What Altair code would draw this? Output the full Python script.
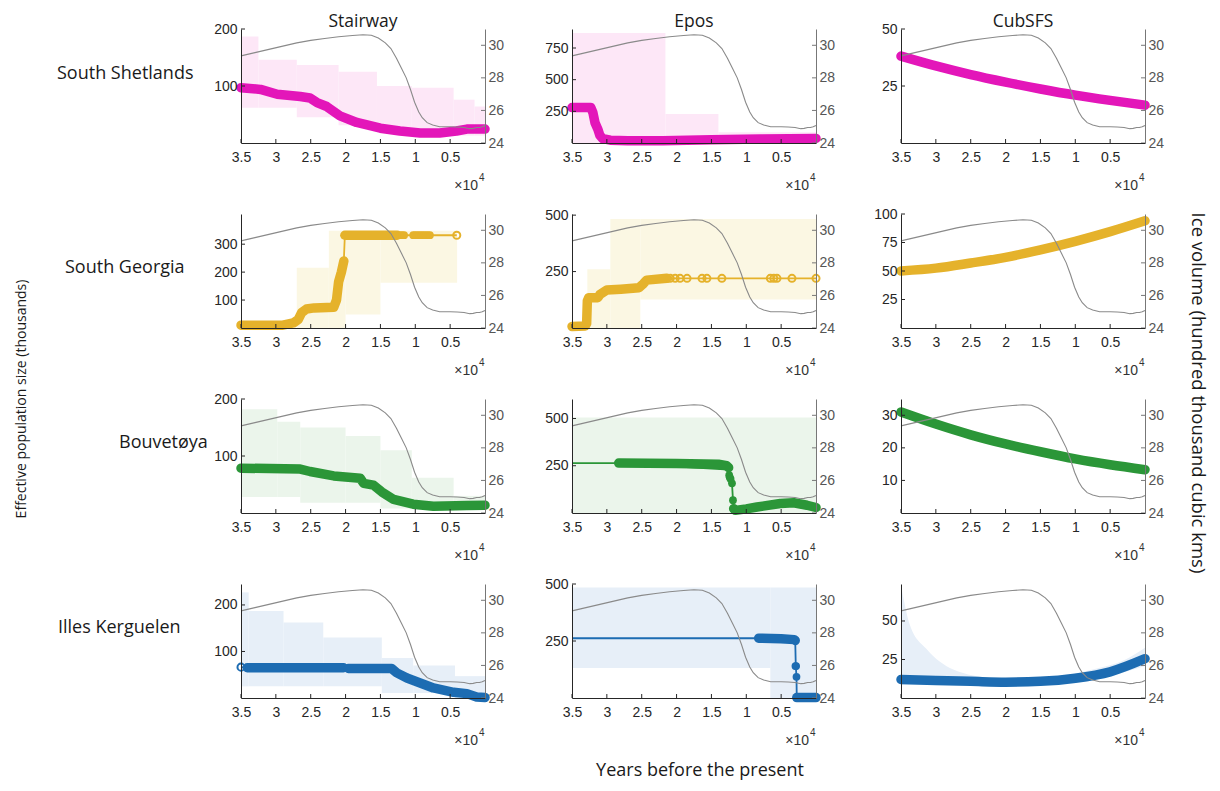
import altair as alt
import pandas as pd

# ---------------- data ----------------
METHODS = ["Stairway", "Epos", "CubSFS"]
POPULATIONS = ["South Shetlands", "South Georgia", "Bouvetøya", "Illes Kerguelen"]
COLORS = ["#E316B9", "#E5B22B", "#2B9638", "#1D6CB2"]
CI_COLORS = ["#FDE7F7", "#FBF7E3", "#EBF5EB", "#E7EFF8"]

X_TICKS = [35000, 30000, 25000, 20000, 15000, 10000, 5000]
ICE_TICKS = [24, 26, 28, 30]

# ice volume (hundred thousand cubic km), same in every panel
ICE_T = [35000, 33000, 31000, 29000, 27000, 25000, 23000, 21000, 19000, 17500, 16300,
         15300, 14300, 13500, 12700, 12000, 11300, 10700, 10100, 9500, 9000, 8300, 7500,
         6500, 5000, 4000, 3000, 2200, 1700, 1200, 800, 400, 0]
ICE_V = [29.35, 29.55, 29.75, 29.95, 30.15, 30.3, 30.42, 30.52, 30.6, 30.65, 30.62,
         30.45, 30.15, 29.8, 29.2, 28.6, 28.0, 27.3, 26.5, 25.9, 25.55, 25.25, 25.1,
         25.0, 25.0, 24.98, 24.95, 24.88, 24.9, 24.95, 24.95, 25.0, 25.08]

# left axis limits / ticks (rows = populations, cols = methods)
Y_MAX = [[200, 900, 50], [408, 505, 100], [200, 603, 35], [245, 500, 74]]
Y_TICKS = [[[100, 200], [250, 500, 750], [25, 50]],
           [[100, 200, 300], [250, 500], [25, 50, 75, 100]],
           [[100, 200], [250, 500], [10, 20, 30]],
           [[100, 200], [250, 500], [25, 50]]]

CUB_T = [35000, 30000, 25000, 20000, 15000, 10000, 5000, 0]

# South Shetlands
SS_STAIR_T = [35000, 32200, 29800, 26500, 25100, 24100, 22700, 20800, 18400, 15000, 12200, 9300, 6500, 4100, 2600, 0]
SS_STAIR_NE = [97, 94, 85.5, 81.5, 79, 71, 64, 47.5, 36, 26, 21, 17.4, 17.4, 21, 24.4, 24.4]
SS_STAIR_CI_T = [35000, 32500, 27000, 21000, 15500, 10500, 4500, 1500, 0]
SS_STAIR_CI_LO = [62, 62, 45, 31, 19, 13, 13, 13]
SS_STAIR_CI_HI = [187, 146, 137, 125, 100, 97, 76, 64]
SS_EPOS_T = [35000, 32300, 32000, 31700, 31300, 31000, 30600, 29500, 27000, 22000, 15000, 8000, 0]
SS_EPOS_NE = [280, 280, 240, 160, 110, 60, 35, 22, 18, 18, 25, 32, 36]
SS_EPOS_CI_T = [35000, 21600, 14000, 0]
SS_EPOS_CI_LO = [0, 0, 0]
SS_EPOS_CI_HI = [868, 228, 84]
SS_CUB_NE = [38.1, 33.8, 30.0, 26.7, 23.7, 21.0, 18.7, 16.6]

# South Georgia
SG_STAIR_T = [35000, 29000, 27500, 26800, 26300, 25600, 24500, 21700, 21300, 21000, 20600, 20250]
SG_STAIR_NE = [10, 10, 18, 30, 55, 68, 72, 74, 100, 165, 200, 240]
SG_STAIR_T2 = [20100, 12600]
SG_STAIR_NE2 = [332, 332]
SG_STAIR_THIN_T = [20250, 20100, 4050]
SG_STAIR_THIN_NE = [240, 332, 332]
SG_STAIR_MKF_T = [12200, 11900, 11600, 10300, 10000, 9700, 9400, 9100, 8800, 8500, 8200, 7900]
SG_STAIR_MKF_NE = [332, 332, 332, 332, 332, 332, 332, 332, 332, 332, 332, 332]
SG_STAIR_MK_T = [4050]
SG_STAIR_MK_NE = [332]
SG_STAIR_CI_T = [35000, 27000, 22400, 20000, 15000, 4000]
SG_STAIR_CI_LO = [4, 0, 0, 48, 162]
SG_STAIR_CI_HI = [14, 216, 348, 348, 348]
SG_EPOS_T = [35000, 33100, 32900, 32800, 32600, 31300, 31000, 30000, 28000, 25400, 24800, 24300, 21400]
SG_EPOS_NE = [7, 9, 20, 120, 134, 134, 148, 168, 172, 178, 195, 212, 220]
SG_EPOS_THIN_T = [21400, 0]
SG_EPOS_THIN_NE = [220, 220]
SG_EPOS_MK_T = [20900, 20200, 19500, 18500, 16350, 15650, 13500, 6550, 6050, 5600, 3450, 0]
SG_EPOS_MK_NE = [220, 220, 220, 220, 220, 220, 220, 220, 220, 220, 220, 220]
SG_EPOS_CI_T = [35000, 32800, 29500, 25200, 0]
SG_EPOS_CI_LO = [0, 0, 0, 126]
SG_EPOS_CI_HI = [12, 260, 483, 483]
SG_CUB_NE = [50, 52.5, 57, 62, 68.5, 76, 84.5, 94]

# Bouvetøya
BV_STAIR_T = [35000, 26500, 25100, 21700, 17900, 17400, 16000, 14800, 13100, 10300, 7400, 2600, 0]
BV_STAIR_NE = [78.7, 77, 72.8, 65, 61, 52, 49, 37, 23.7, 15.4, 11.8, 13, 13.6]
BV_STAIR_CI_T = [35000, 29800, 26500, 20000, 15000, 10500, 4500, 0]
BV_STAIR_CI_LO = [28, 28, 18, 18, 8, 8, 8]
BV_STAIR_CI_HI = [182, 160, 150, 135, 110, 62, 30]
BV_EPOS_THIN_T = [35000, 28300, 28300, 12530, 12380, 12050, 11910, 11810]
BV_EPOS_THIN_NE = [264, 264, 264, 229, 189, 157, 68, 23]
BV_EPOS_T = [28300, 20000, 14000, 12800, 12530]
BV_EPOS_NE = [264, 262, 258, 250, 240]
BV_EPOS_T2 = [11810, 11570, 10000, 8460, 5120, 3200, 1290, 0]
BV_EPOS_NE2 = [23, 14, 22, 32, 50, 54, 41, 29]
BV_EPOS_MKF_T = [12450, 12380, 12250, 12050, 11910]
BV_EPOS_MKF_NE = [200, 189, 180, 157, 68]
BV_EPOS_CI_T = [35000, 0]
BV_EPOS_CI_LO = [0]
BV_EPOS_CI_HI = [505]
BV_CUB_NE = [31, 27.3, 24, 21.2, 18.8, 16.6, 14.8, 13.3]

# Illes Kerguelen
IK_STAIR_THIN_T = [35000, 34100, 20300, 19600]
IK_STAIR_THIN_NE = [66.3, 65, 65, 63.5]
IK_STAIR_T = [34100, 20300]
IK_STAIR_NE = [65, 65]
IK_STAIR_T2 = [19600, 13400, 12650, 11200, 9300, 7400, 4500, 2600, 1200, 0]
IK_STAIR_NE2 = [63.5, 63.4, 54, 43, 32.4, 21.6, 12.3, 9.4, 2, 1]
IK_STAIR_MK_T = [35000]
IK_STAIR_MK_NE = [66.3]
IK_STAIR_CI_T = [35000, 33900, 28900, 23200, 14800, 10300, 4300, 0]
IK_STAIR_CI_LO = [25, 25, 25, 25, 11, 11, 0]
IK_STAIR_CI_HI = [227, 187, 162, 130, 86, 70, 47]
IK_EPOS_THIN_T = [35000, 8220, 8220, 2980, 2900, 2800, 2760]
IK_EPOS_THIN_NE = [262, 262, 262, 252, 140, 93, 2]
IK_EPOS_T = [8220, 5000, 3100, 2980]
IK_EPOS_NE = [262, 260, 256, 252]
IK_EPOS_T2 = [2760, 0]
IK_EPOS_NE2 = [2, 2]
IK_EPOS_MKF_T = [2950, 2850, 2800]
IK_EPOS_MKF_NE = [140, 140, 93]
IK_EPOS_CI_T = [35000, 6550, 0]
IK_EPOS_CI_LO = [132, 0]
IK_EPOS_CI_HI = [485, 485]
IK_CUB_NE = [12, 11.3, 10.8, 10.3, 10.8, 12.8, 17, 25.5]
IK_CUB_CI_T = [35000, 33700, 31300, 27500, 21800, 17000, 12300, 7500, 2800, 0]
IK_CUB_CI_LO = [8.7, 8.7, 8.7, 8.7, 8.8, 9, 9.5, 12, 17, 20.7]
IK_CUB_CI_HI = [73, 47, 31.6, 18.5, 13, 12.5, 14, 18.5, 25, 32.6]

PANELS = [
    [dict(thick=[(SS_STAIR_T, SS_STAIR_NE)], ci=("step", SS_STAIR_CI_T, SS_STAIR_CI_LO, SS_STAIR_CI_HI)),
     dict(thick=[(SS_EPOS_T, SS_EPOS_NE)], ci=("step", SS_EPOS_CI_T, SS_EPOS_CI_LO, SS_EPOS_CI_HI)),
     dict(thick=[(CUB_T, SS_CUB_NE)], smooth=True)],
    [dict(thick=[(SG_STAIR_T, SG_STAIR_NE), (SG_STAIR_T2, SG_STAIR_NE2)], thin=[(SG_STAIR_THIN_T, SG_STAIR_THIN_NE)],
          mkf=(SG_STAIR_MKF_T, SG_STAIR_MKF_NE), mk=(SG_STAIR_MK_T, SG_STAIR_MK_NE),
          ci=("step", SG_STAIR_CI_T, SG_STAIR_CI_LO, SG_STAIR_CI_HI)),
     dict(thick=[(SG_EPOS_T, SG_EPOS_NE)], thin=[(SG_EPOS_THIN_T, SG_EPOS_THIN_NE)],
          mk=(SG_EPOS_MK_T, SG_EPOS_MK_NE), ci=("step", SG_EPOS_CI_T, SG_EPOS_CI_LO, SG_EPOS_CI_HI)),
     dict(thick=[(CUB_T, SG_CUB_NE)], smooth=True)],
    [dict(thick=[(BV_STAIR_T, BV_STAIR_NE)], ci=("step", BV_STAIR_CI_T, BV_STAIR_CI_LO, BV_STAIR_CI_HI)),
     dict(thick=[(BV_EPOS_T, BV_EPOS_NE), (BV_EPOS_T2, BV_EPOS_NE2)], thin=[(BV_EPOS_THIN_T, BV_EPOS_THIN_NE)],
          mkf=(BV_EPOS_MKF_T, BV_EPOS_MKF_NE), ci=("step", BV_EPOS_CI_T, BV_EPOS_CI_LO, BV_EPOS_CI_HI)),
     dict(thick=[(CUB_T, BV_CUB_NE)], smooth=True)],
    [dict(thick=[(IK_STAIR_T, IK_STAIR_NE), (IK_STAIR_T2, IK_STAIR_NE2)], thin=[(IK_STAIR_THIN_T, IK_STAIR_THIN_NE)],
          mk=(IK_STAIR_MK_T, IK_STAIR_MK_NE), ci=("step", IK_STAIR_CI_T, IK_STAIR_CI_LO, IK_STAIR_CI_HI)),
     dict(thick=[(IK_EPOS_T, IK_EPOS_NE), (IK_EPOS_T2, IK_EPOS_NE2)], thin=[(IK_EPOS_THIN_T, IK_EPOS_THIN_NE)],
          mkf=(IK_EPOS_MKF_T, IK_EPOS_MKF_NE), ci=("step", IK_EPOS_CI_T, IK_EPOS_CI_LO, IK_EPOS_CI_HI)),
     dict(thick=[(CUB_T, IK_CUB_NE)], smooth=True, ci=("smooth", IK_CUB_CI_T, IK_CUB_CI_LO, IK_CUB_CI_HI))],
]

# ---------------- layout ----------------
W, H = 244, 114
COL_L = [203, 57, 55]
COL_R = [30, 30, 30]
ROW_T = [21, 21, 21, 21]
ROW_B = [50, 50, 50, 83]
GRID_H = sum(ROW_T) + 4 * H + sum(ROW_B)
ROW_LABEL_X = [-184, -176, -122, -183]
ROW_LABEL_Y = [45, 54, 44, 44]
FONT_T = "Open Sans"
FONT_A = "Liberation Sans"
TXT = "#1a1a1a"
AX = "#262626"

XS = alt.Scale(domain=[0, 35000], reverse=True, nice=False, zero=False)
ICE_SCALE = alt.Scale(domain=[24, 31], nice=False, zero=False)


def xaxis():
    return alt.Axis(values=X_TICKS, labelExpr="datum.value / 10000 + ''", title=None, grid=False,
                    ticks=False, labelPadding=7, labelFontSize=14, labelFont=FONT_A,
                    labelColor=AX, domainColor=AX, labelAngle=0, labelOverlap=False,
                    labelFlush=False, zindex=1)


def yaxis_left(vals):
    return alt.Axis(values=vals, format="d", orient="left", title=None, grid=False, ticks=False,
                    labelPadding=4, labelFontSize=14, labelFont=FONT_A, labelColor=AX,
                    domainColor=AX, labelOverlap=False, labelFlush=False, zindex=1)


def yaxis_right():
    return alt.Axis(values=ICE_TICKS, format="d", orient="right", title=None, grid=False, ticks=False,
                    labelPadding=3, labelFontSize=14, labelFont=FONT_A, labelColor="#555555",
                    domainColor="#777777", labelOverlap=False, labelFlush=False, zindex=1)


def one():
    return pd.DataFrame({"k": [0]})


def text_layer(txt, x, y, size, font=FONT_T, color=TXT, align="center", baseline="middle", angle=None):
    kw = dict(text=txt, fontSize=size, font=font, color=color, align=align, baseline=baseline)
    if angle is not None:
        kw["angle"] = angle
    return alt.Chart(one()).mark_text(**kw).encode(x=alt.value(x), y=alt.value(y))


def series_df(series_list):
    rows = []
    for s, (ts, vs) in enumerate(series_list):
        for i, (t, v) in enumerate(zip(ts, vs)):
            rows.append({"t": t, "v": v, "seg": s, "i": i})
    return pd.DataFrame(rows)


def panel(r, c):
    spec = PANELS[r][c]
    col = COLORS[r]
    cic = CI_COLORS[r]
    ys = alt.Scale(domain=[0, Y_MAX[r][c]], nice=False, zero=False)
    xa = xaxis()
    yl = yaxis_left(Y_TICKS[r][c])
    left = [alt.Chart(one()).mark_rule(opacity=0).encode(
        x=alt.value(-COL_L[c]), x2=alt.value(W + COL_R[c]),
        y=alt.value(-ROW_T[r]), y2=alt.value(H + ROW_B[r]))]

    if "ci" in spec:
        kind, T, LO, HI = spec["ci"]
        if kind == "step":
            df = pd.DataFrame({"t0": T[:-1], "t1": T[1:], "lo": LO, "hi": HI})
            left.append(alt.Chart(df).mark_rect(color=cic, opacity=1).encode(
                x=alt.X("t0:Q", scale=XS, axis=xa), x2="t1:Q",
                y=alt.Y("lo:Q", scale=ys, axis=yl), y2="hi:Q"))
        else:
            df = pd.DataFrame({"t": T, "lo": LO, "hi": HI})
            left.append(alt.Chart(df).mark_area(color=cic, opacity=1, interpolate="monotone").encode(
                x=alt.X("t:Q", scale=XS, axis=xa),
                y=alt.Y("lo:Q", scale=ys, axis=yl), y2="hi:Q"))

    if "thin" in spec:
        left.append(alt.Chart(series_df(spec["thin"])).mark_line(color=col, strokeWidth=1.8).encode(
            x=alt.X("t:Q", scale=XS, axis=xa), y=alt.Y("v:Q", scale=ys, axis=yl),
            detail="seg:N", order="i:Q"))

    thick_kw = dict(color=col, strokeWidth=9.5, strokeCap="round", strokeJoin="round")
    if spec.get("smooth"):
        thick_kw["interpolate"] = "monotone"
    left.append(alt.Chart(series_df(spec["thick"])).mark_line(**thick_kw).encode(
        x=alt.X("t:Q", scale=XS, axis=xa), y=alt.Y("v:Q", scale=ys, axis=yl),
        detail="seg:N", order="i:Q"))

    if "mkf" in spec:
        mt, mv = spec["mkf"]
        left.append(alt.Chart(pd.DataFrame({"t": mt, "v": mv})).mark_point(
            shape="circle", filled=True, size=60, color=col, opacity=1).encode(
            x=alt.X("t:Q", scale=XS, axis=xa), y=alt.Y("v:Q", scale=ys, axis=yl)))
    if "mk" in spec:
        mt, mv = spec["mk"]
        left.append(alt.Chart(pd.DataFrame({"t": mt, "v": mv})).mark_point(
            shape="circle", filled=False, size=50, strokeWidth=2, color=col, opacity=1).encode(
            x=alt.X("t:Q", scale=XS, axis=xa), y=alt.Y("v:Q", scale=ys, axis=yl)))

    # inward ticks
    left.append(alt.Chart(pd.DataFrame({"t": X_TICKS})).mark_rule(color=AX, strokeWidth=1).encode(
        x=alt.X("t:Q", scale=XS, axis=xa), y=alt.value(H), y2=alt.value(H - 4)))
    left.append(alt.Chart(pd.DataFrame({"v": Y_TICKS[r][c]})).mark_rule(color=AX, strokeWidth=1).encode(
        y=alt.Y("v:Q", scale=ys, axis=yl), x=alt.value(0), x2=alt.value(4)))

    # x10^4
    left.append(text_layer("×10", W - 7, H + 43, 14, font=FONT_A, color="#333333", align="right"))
    left.append(text_layer("4", W - 6, H + 35, 10, font=FONT_A, color="#333333", align="left"))

    if r == 0:
        left.append(text_layer(METHODS[c], W / 2, -2, 17.5, baseline="alphabetic"))
    if c == 0:
        left.append(text_layer(POPULATIONS[r], ROW_LABEL_X[r], ROW_LABEL_Y[r], 18, align="left"))
    if r == 3 and c == 1:
        left.append(text_layer("Years before the present", 128, 187, 18))

    ice_df = pd.DataFrame({"t": ICE_T, "ice": ICE_V})
    right = [
        alt.Chart(ice_df).mark_line(color="#8a8a8a", strokeWidth=1.1).encode(
            x=alt.X("t:Q", scale=XS, axis=xa),
            y=alt.Y("ice:Q", scale=ICE_SCALE, axis=yaxis_right())),
        alt.Chart(pd.DataFrame({"ice": ICE_TICKS})).mark_rule(color="#777777", strokeWidth=1).encode(
            y=alt.Y("ice:Q", scale=ICE_SCALE, axis=yaxis_right()),
            x=alt.value(W), x2=alt.value(W - 4)),
    ]
    return alt.layer(alt.layer(*left), alt.layer(*right)).resolve_scale(y="independent").properties(
        width=W, height=H)


rows = [alt.hconcat(*[panel(r, c) for c in range(3)], spacing=0) for r in range(4)]
grid = alt.vconcat(*rows, spacing=0)

left_title = alt.layer(
    alt.Chart(one()).mark_rule(opacity=0).encode(x=alt.value(0), x2=alt.value(30), y=alt.value(0), y2=alt.value(GRID_H)),
    text_layer("Effective population size (thousands)", 14, 370, 14, angle=270),
).properties(width=30, height=GRID_H)

right_title = alt.layer(
    alt.Chart(one()).mark_rule(opacity=0).encode(x=alt.value(0), x2=alt.value(36), y=alt.value(0), y2=alt.value(GRID_H)),
    text_layer("Ice volume (hundred thousand cubic kms)", 22.5, 364, 18.5, angle=90),
).properties(width=36, height=GRID_H)

chart = alt.hconcat(left_title, grid, right_title, spacing=0).properties(
    padding=0, background="white"
).configure_view(stroke=None)

chart.save("out.html", embed_options={"renderer": "svg", "actions": False})
